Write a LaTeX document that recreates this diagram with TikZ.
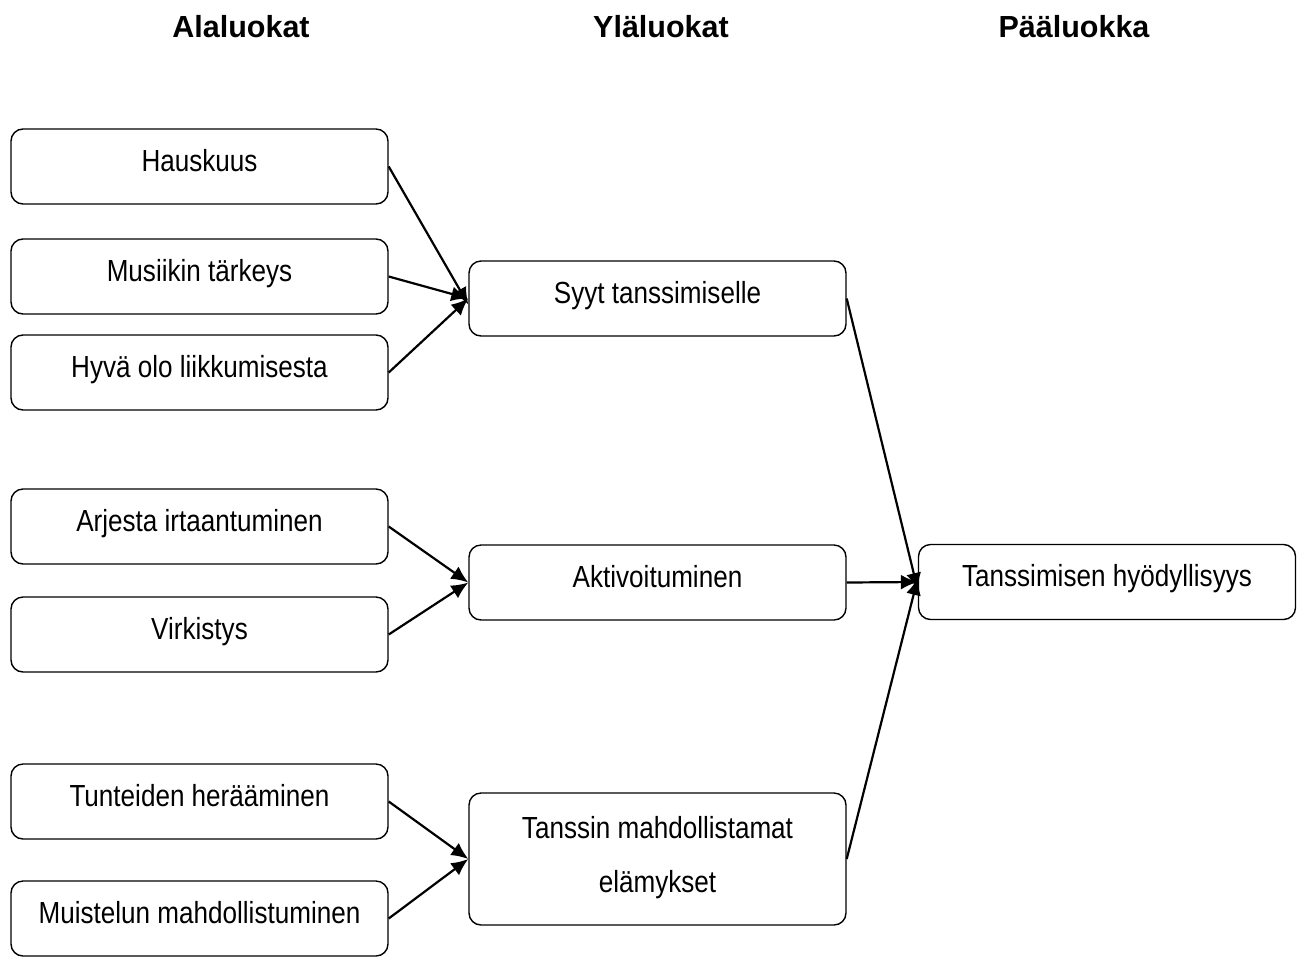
\documentclass[tikz,border=0pt]{standalone}
\usepackage{fontspec}
\setmainfont{Liberation Sans}
\newfontfamily\narrowfont[FakeStretch=0.855]{Liberation Sans}
\usetikzlibrary{arrows.meta}

\tikzset{
  catbox/.style={draw, line width=1.4pt, rounded corners=12pt,
    minimum width=377pt, minimum height=75pt, inner sep=0pt,
    font=\narrowfont\fontsize{30.5}{36}\selectfont, text height=20pt, text depth=11pt},
  tallbox/.style={catbox, minimum height=132pt, align=center,
    font=\narrowfont\fontsize{30.5}{54}\selectfont, text height=79pt, text depth=13pt},
  head/.style={anchor=base, font=\fontsize{30.5}{36}\selectfont\bfseries},
  link/.style={line width=2.2pt, -{Latex[length=17pt,width=15pt]}}
}

\begin{document}
\begin{tikzpicture}[x=1pt,y=-1pt]
\useasboundingbox (0,0) rectangle (1305,956);

% column headings
\node[head] (hsub)  at (241,37)  {Alaluokat};
\node[head] (hup)   at (661,37)  {Yläluokat};
\node[head] (hmain) at (1074,37) {Pääluokka};

% subcategories
\node[catbox] (hausk)  at (199.5,166.5) {Hauskuus};
\node[catbox] (musa)   at (199.5,276.5) {Musiikin tärkeys};
\node[catbox] (hyva)   at (199.5,372.5) {Hyvä olo liikkumisesta};
\node[catbox] (arki)   at (199.5,526.5) {Arjesta irtaantuminen};
\node[catbox] (virk)   at (199.5,634.5) {Virkistys};
\node[catbox] (tunne)  at (199.5,801.5) {Tunteiden herääminen};
\node[catbox] (muisto) at (199.5,918.5) {Muistelun mahdollistuminen};

% upper categories
\node[catbox]  (syyt)  at (657.5,298.5) {Syyt tanssimiselle};
\node[catbox]  (aktiv) at (657.5,582.5) {Aktivoituminen};
\node[tallbox] (elam)  at (657.5,859)   {Tanssin mahdollistamat\\elämykset};

% main category
\node[catbox] (hyoty) at (1107,582) {Tanssimisen hyödyllisyys};

% connectors
\draw[link] (hausk.east) -- ([yshift=-6pt]syyt.west);
\draw[link] (musa.east)  -- (syyt.west);
\draw[link] (hyva.east)  -- (syyt.west);
\draw[link] (arki.east)  -- (aktiv.west);
\draw[link] (virk.east)  -- (aktiv.west);
\draw[link] (tunne.east) -- (elam.west);
\draw[link] (muisto.east) -- (elam.west);
\draw[link] (syyt.east)  -- ([yshift=-8pt]hyoty.west);
\draw[link] (aktiv.east) -- (hyoty.west);
\draw[link] (elam.east)  -- ([yshift=4pt]hyoty.west);
\end{tikzpicture}
\end{document}
